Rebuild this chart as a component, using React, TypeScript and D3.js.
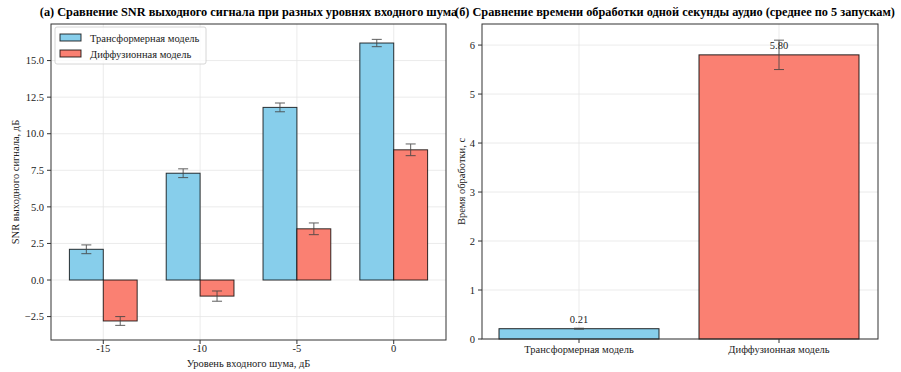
import React from "react";
import * as d3 from "d3";

const noiseLevels = ["-15", "-10", "-5", "0"];
const transformerSNR = [2.1, 7.3, 11.8, 16.2];
const transformerErr = [0.3, 0.3, 0.3, 0.25];
const diffusionSNR = [-2.8, -1.1, 3.5, 8.9];
const diffusionErr = [0.3, 0.35, 0.4, 0.4];
const snrTicks = [-2.5, 0, 2.5, 5, 7.5, 10, 12.5, 15];

const models = ["Трансформерная модель", "Диффузионная модель"];
const timeValues = [0.21, 5.8];
const timeErr = [0.01, 0.3];
const timeTicks = [0, 1, 2, 3, 4, 5, 6];

const BLUE = "#87CEEB";
const RED = "#FA8072";
const FONT = "Liberation Serif";

export default function App() {
  const W = 901, H = 372;
  const L = { x0: 51, x1: 446, y0: 24, y1: 340 };
  const xL = d3.scaleLinear().domain([-0.54, 3.54]).range([L.x0, L.x1]);
  const yL = d3.scaleLinear().domain([-4.1, 17.5]).range([L.y1, L.y0]);
  const bw = 0.35;
  const R = { x0: 482, x1: 878, y0: 24, y1: 339 };
  const xR = d3.scaleLinear().domain([-0.485, 1.495]).range([R.x0, R.x1]);
  const yR = d3.scaleLinear().domain([0, 6.43]).range([R.y1, R.y0]);
  const rbw = 0.8;

  const errBar = (cx: number, y1: number, y2: number, key: string) => (
    <g key={key} stroke="#444" strokeWidth={1} opacity={0.85}>
      <line x1={cx} x2={cx} y1={y1} y2={y2} />
      <line x1={cx - 5} x2={cx + 5} y1={y1} y2={y1} />
      <line x1={cx - 5} x2={cx + 5} y1={y2} y2={y2} />
    </g>
  );

  const series = [
    { vals: transformerSNR, errs: transformerErr, color: BLUE, off: -bw / 2 },
    { vals: diffusionSNR, errs: diffusionErr, color: RED, off: bw / 2 },
  ];

  return (
    <svg width={W} height={H} fontFamily={FONT} style={{ position: "absolute", left: 0, top: 0 }}>
      <rect width={W} height={H} fill="#fff" />
      <text x={(L.x0 + L.x1) / 2} y={16} textAnchor="middle" fontSize={12.3} fontWeight="bold">
        (а) Сравнение SNR выходного сигнала при разных уровнях входного шума
      </text>
      {snrTicks.map((t) => (
        <line key={"gy" + t} x1={L.x0} x2={L.x1} y1={yL(t)} y2={yL(t)} stroke="#e6e6e6" strokeWidth={0.8} />
      ))}
      {noiseLevels.map((_, i) => (
        <line key={"gx" + i} x1={xL(i)} x2={xL(i)} y1={L.y0} y2={L.y1} stroke="#e6e6e6" strokeWidth={0.8} />
      ))}
      {series.map((s, si) =>
        s.vals.map((v, i) => {
          const xa = xL(i + s.off - bw / 2);
          const xb = xL(i + s.off + bw / 2);
          const ya = yL(Math.max(v, 0));
          const yb = yL(Math.min(v, 0));
          return (
            <rect key={`b${si}-${i}`} x={xa} y={ya} width={xb - xa} height={yb - ya}
              fill={s.color} stroke="#000" strokeWidth={1} strokeOpacity={0.8} />
          );
        })
      )}
      {series.map((s, si) =>
        s.vals.map((v, i) => errBar(xL(i + s.off), yL(v + s.errs[i]), yL(v - s.errs[i]), `e${si}-${i}`))
      )}
      <rect x={L.x0} y={L.y0} width={L.x1 - L.x0} height={L.y1 - L.y0} fill="none" stroke="#333" strokeWidth={1} />
      {snrTicks.map((t) => (
        <g key={"ty" + t}>
          <line x1={L.x0 - 4} x2={L.x0} y1={yL(t)} y2={yL(t)} stroke="#333" />
          <text x={L.x0 - 7} y={yL(t)} dy="0.35em" textAnchor="end" fontSize={10.5} fill="#222">
            {t < 0 ? "\u2212" + Math.abs(t).toFixed(1) : t.toFixed(1)}
          </text>
        </g>
      ))}
      {noiseLevels.map((lab, i) => (
        <g key={"tx" + i}>
          <line x1={xL(i)} x2={xL(i)} y1={L.y1} y2={L.y1 + 4} stroke="#333" />
          <text x={xL(i)} y={L.y1 + 12} textAnchor="middle" fontSize={10.5} fill="#222">{lab}</text>
        </g>
      ))}
      <text x={(L.x0 + L.x1) / 2} y={367} textAnchor="middle" fontSize={10.5} fill="#222">
        Уровень входного шума, дБ
      </text>
      <text transform={`translate(19,${(L.y0 + L.y1) / 2}) rotate(-90)`} textAnchor="middle" fontSize={10.5} fill="#222">
        SNR выходного сигнала, дБ
      </text>
      <g>
        <rect x={55} y={27} width={151} height={37} rx={2} fill="#fff" fillOpacity={0.8} stroke="#ccc" strokeWidth={0.8} />
        {models.map((m, i) => (
          <g key={"lg" + i}>
            <rect x={60} y={34 + i * 16} width={21} height={7} fill={i === 0 ? BLUE : RED} stroke="#000" strokeWidth={1} strokeOpacity={0.8} />
            <text x={90} y={38 + i * 16} dy="0.35em" fontSize={10.5} fill="#222">{m}</text>
          </g>
        ))}
      </g>

      <text x={(R.x0 + R.x1) / 2 - 5} y={16} textAnchor="middle" fontSize={12.3} fontWeight="bold">
        (б) Сравнение времени обработки одной секунды аудио (среднее по 5 запускам)
      </text>
      {timeTicks.map((t) => (
        <line key={"rgy" + t} x1={R.x0} x2={R.x1} y1={yR(t)} y2={yR(t)} stroke="#e6e6e6" strokeWidth={0.8} />
      ))}
      {models.map((_, i) => (
        <line key={"rgx" + i} x1={xR(i)} x2={xR(i)} y1={R.y0} y2={R.y1} stroke="#e6e6e6" strokeWidth={0.8} />
      ))}
      {timeValues.map((v, i) => {
        const xa = xR(i - rbw / 2);
        const xb = xR(i + rbw / 2);
        return (
          <rect key={"rb" + i} x={xa} y={yR(v)} width={xb - xa} height={yR(0) - yR(v)}
            fill={i === 0 ? BLUE : RED} stroke="#000" strokeWidth={1} strokeOpacity={0.85} />
        );
      })}
      {timeValues.map((v, i) => errBar(xR(i), yR(v + timeErr[i]), yR(v - timeErr[i]), "re" + i))}
      {timeValues.map((v, i) => (
        <text key={"rl" + i} x={xR(i)} y={yR(v) - 6} textAnchor="middle" fontSize={10.5} fill="#222">
          {v.toFixed(2)}
        </text>
      ))}
      <rect x={R.x0} y={R.y0} width={R.x1 - R.x0} height={R.y1 - R.y0} fill="none" stroke="#333" strokeWidth={1} />
      {timeTicks.map((t) => (
        <g key={"rty" + t}>
          <line x1={R.x0 - 4} x2={R.x0} y1={yR(t)} y2={yR(t)} stroke="#333" />
          <text x={R.x0 - 7} y={yR(t)} dy="0.35em" textAnchor="end" fontSize={10.5} fill="#222">{t}</text>
        </g>
      ))}
      {models.map((m, i) => (
        <g key={"rtx" + i}>
          <line x1={xR(i)} x2={xR(i)} y1={R.y1} y2={R.y1 + 4} stroke="#333" />
          <text x={xR(i)} y={R.y1 + 14} textAnchor="middle" fontSize={10.5} fill="#222">{m}</text>
        </g>
      ))}
      <text transform={`translate(465,${(R.y0 + R.y1) / 2}) rotate(-90)`} textAnchor="middle" fontSize={10.5} fill="#222">
        Время обработки, с
      </text>
    </svg>
  );
}
